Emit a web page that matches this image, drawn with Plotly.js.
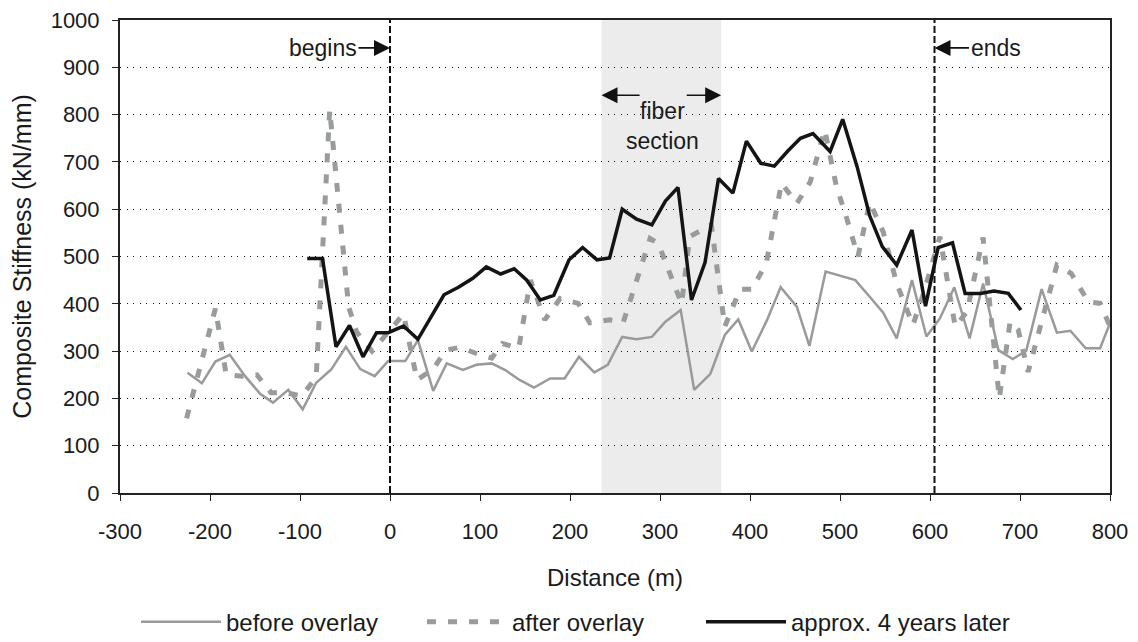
<!DOCTYPE html>
<html>
<head>
<meta charset="utf-8">
<script src="https://cdn.plot.ly/plotly-3.0.1.min.js"></script>
<style>html,body{margin:0;padding:0;background:#fff;}#chart{width:1138px;height:642px;}</style>
</head>
<body>
<div id="chart"></div>
<script>
// Distance (m) and composite stiffness (kN/mm)
const beforeX = [-225,-209,-194,-178,-161,-144,-130,-113,-97,-82,-65,-49,-33,-17,-2,17,31,48,63,81,96,113,128,144,160,178,194,210,227,242,258,274,291,306,323,338,356,372,387,402,419,434,452,466,484,500,517,533,548,563,580,596,611,627,644,659,676,692,707,724,741,756,773,789,800];
const beforeY = [254,232,278,292,247,209,191,218,177,233,262,309,262,247,279,279,323,216,274,260,271,274,260,239,223,242,242,288,255,271,330,325,330,362,387,218,252,334,367,299,366,435,394,311,468,459,450,415,381,327,450,331,369,435,327,443,302,283,301,431,339,343,306,306,359];

const afterX = [-226,-194,-182,-165,-148,-132,-115,-98,-82,-67,-46,-37,-20,15,30,48,62,78,96,113,125,143,156,172,189,209,222,244,259,289,298,324,333,357,372,389,402,418,435,452,467,483,496,506,520,533,548,563,581,594,611,628,641,659,677,689,698,709,741,757,776,789,800];
const afterY = [158,390,250,247,250,212,212,205,245,810,394,340,300,378,239,262,302,308,295,285,316,306,450,366,411,401,360,366,360,538,528,400,542,567,352,431,431,485,655,612,658,768,648,590,500,615,552,443,355,429,542,352,383,540,200,362,345,256,482,464,404,401,352];

const laterX = [-92,-75,-60,-45,-30,-15,-2,15,31,60,76,92,107,123,138,152,167,182,199,214,230,244,258,274,291,306,320,335,350,365,381,396,412,427,442,456,470,489,503,519,533,547,563,580,595,609,625,639,656,671,687,701];
const laterY = [496,496,309,354,288,339,339,353,325,419,435,454,478,463,474,450,408,418,493,519,493,497,600,579,567,617,646,408,487,665,634,744,697,691,723,750,760,722,790,690,586,521,482,556,395,519,529,422,422,427,422,387];

const seriesNames = ["before overlay", "after overlay", "approx. 4 years later"];
const overlayBegins = 0;
const overlayEnds = 605;
const fiberStart = 235;
const fiberEnd = 368;
const xTicks = [-300,-200,-100,0,100,200,300,400,500,600,700,800];
const yTicks = [0,100,200,300,400,500,600,700,800,900,1000];

const FONT = "Liberation Sans, Arial, Helvetica, sans-serif";

const traces = [
  {x: beforeX, y: beforeY, name: seriesNames[0], type: "scatter", mode: "lines", legend: "legend",
   line: {color: "#9a9a9a", width: 2.5}},
  {x: afterX, y: afterY, name: seriesNames[1], type: "scatter", mode: "lines", legend: "legend2",
   line: {color: "#999c9c", width: 5, dash: "9px,12px"}},
  {x: laterX, y: laterY, name: seriesNames[2], type: "scatter", mode: "lines", legend: "legend3",
   line: {color: "#141414", width: 3.5}}
];

function legendAt(px) {
  return {orientation: "h", xref: "container", yref: "container", x: px / 1138, xanchor: "left",
          y: 0.031, yanchor: "middle", font: {size: 24, family: FONT, color: "#1a1a1a"},
          itemwidth: 80, bgcolor: "rgba(0,0,0,0)"};
}

const layout = {
  width: 1138, height: 642,
  margin: {l: 120, r: 28, t: 20, b: 149, autoexpand: false},
  paper_bgcolor: "#fff", plot_bgcolor: "rgba(0,0,0,0)",
  font: {family: FONT, color: "#1a1a1a", size: 22},
  showlegend: true,
  legend: legendAt(136),
  legend2: legendAt(422),
  legend3: legendAt(701),
  xaxis: {range: [-300, 800], tickvals: xTicks, ticktext: xTicks.map(String),
          showgrid: false, zeroline: false, showline: true, mirror: true,
          linecolor: "#222", linewidth: 2, ticks: "outside", ticklen: 6, tickcolor: "#222",
          tickfont: {size: 22, family: FONT}, ticklabelstandoff: 12,
          title: {text: "Distance (m)", font: {size: 24, family: FONT}, standoff: 26}},
  yaxis: {range: [0, 1000], tickvals: yTicks, ticktext: yTicks.map(String),
          showgrid: true, gridcolor: "#111", gridwidth: 1, griddash: "1.3px,5.2px",
          zeroline: false, showline: true, mirror: true,
          linecolor: "#222", linewidth: 2, ticks: "outside", ticklen: 6, tickcolor: "#222",
          tickfont: {size: 22, family: FONT}, ticklabelstandoff: 8,
          title: {text: "Composite Stiffness (kN/mm)", font: {size: 25, family: FONT}, standoff: 12}},
  shapes: [
    {type: "rect", xref: "x", yref: "y", x0: fiberStart, x1: fiberEnd, y0: 0, y1: 1000,
     fillcolor: "#ececec", line: {width: 0}, layer: "below"},
    {type: "line", xref: "x", yref: "y", x0: overlayBegins, x1: overlayBegins, y0: 0, y1: 1000,
     line: {color: "#111", width: 2, dash: "7px,3px"}},
    {type: "line", xref: "x", yref: "y", x0: overlayEnds, x1: overlayEnds, y0: 0, y1: 1000,
     line: {color: "#111", width: 2, dash: "7px,3px"}}
  ],
  annotations: [
    {x: overlayBegins, y: 941, xref: "x", yref: "y", text: "begins", showarrow: true,
     ax: -67, ay: 0, arrowhead: 2, arrowsize: 2, arrowwidth: 1.6, arrowcolor: "#111",
     font: {size: 23, family: FONT, color: "#1a1a1a"}},
    {x: overlayEnds, y: 941, xref: "x", yref: "y", text: "ends", showarrow: true,
     ax: 61, ay: 0, arrowhead: 2, arrowsize: 2, arrowwidth: 1.6, arrowcolor: "#111",
     font: {size: 23, family: FONT, color: "#1a1a1a"}},
    {x: 303, y: 775, xref: "x", yref: "y", text: "fiber<br>section", showarrow: false,
     font: {size: 23, family: FONT, color: "#1a1a1a"}},
    {x: fiberStart, y: 841, xref: "x", yref: "y", axref: "x", ayref: "y", ax: 279, ay: 841,
     text: "", showarrow: true, arrowhead: 2, arrowsize: 2, arrowwidth: 1.6, arrowcolor: "#111"},
    {x: fiberEnd, y: 841, xref: "x", yref: "y", axref: "x", ayref: "y", ax: 328, ay: 841,
     text: "", showarrow: true, arrowhead: 2, arrowsize: 2, arrowwidth: 1.6, arrowcolor: "#111"}
  ]
};

Plotly.newPlot("chart", traces, layout, {staticPlot: true, displayModeBar: false});
</script>
</body>
</html>
